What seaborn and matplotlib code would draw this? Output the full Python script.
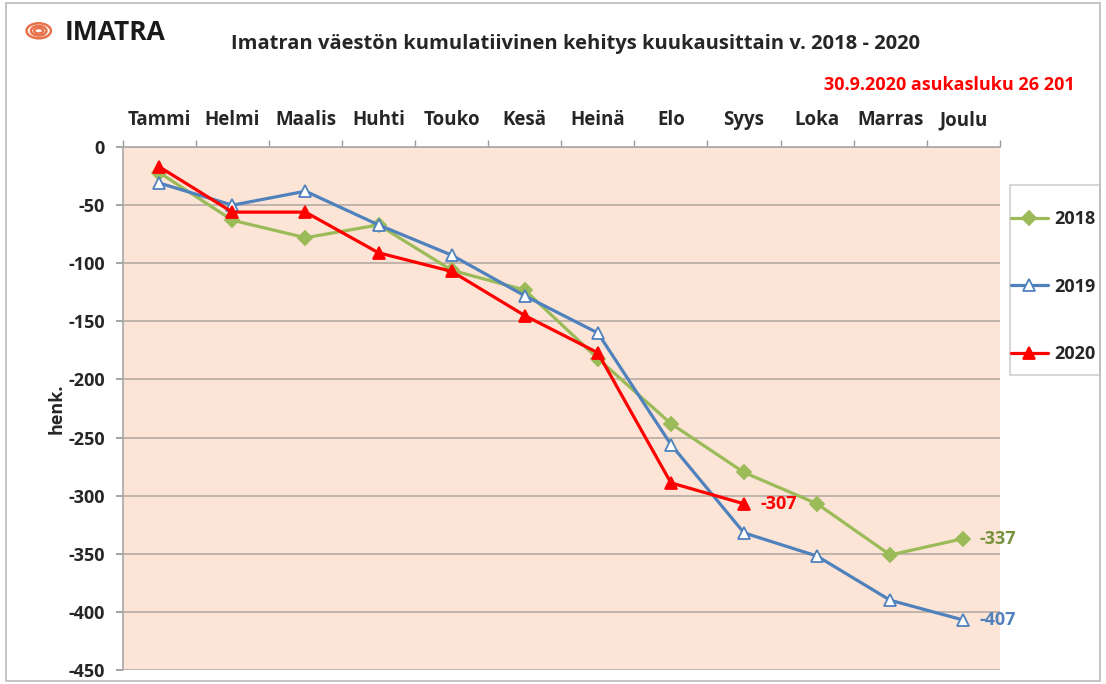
import matplotlib
matplotlib.use("Agg")
import matplotlib.pyplot as plt
import seaborn as sns
import pandas as pd
import numpy as np
from matplotlib.patches import Rectangle, Circle

months = ["Tammi", "Helmi", "Maalis", "Huhti", "Touko", "Kesä", "Heinä",
          "Elo", "Syys", "Loka", "Marras", "Joulu"]
v2018 = [-22, -63, -78, -67, -106, -123, -182, -238, -280, -307, -351, -337]
v2019 = [-31, -50, -38, -67, -93, -128, -160, -256, -332, -352, -390, -407]
v2020 = [-17, -56, -56, -91, -107, -145, -177, -289, -307]
yticks = [0, -50, -100, -150, -200, -250, -300, -350, -400, -450]

sns.set_theme(style="white")
plt.rcParams['font.family'] = ['Open Sans', 'DejaVu Sans']

fig = plt.figure(figsize=(11.06, 6.84), dpi=100)
ax = fig.add_axes([0.111, 0.0205, 0.793, 0.7645])
ax.set_facecolor("#FCE4D6")

rows = []
for name, vals in [("2018", v2018), ("2019", v2019), ("2020", v2020)]:
    for i, v in enumerate(vals):
        rows.append({"x": i, "y": v, "year": name})
df = pd.DataFrame(rows)

styles = {
    "2018": dict(color="#9BBB59", marker="D", mfc="#9BBB59", mec="#9BBB59", ms=7),
    "2019": dict(color="#4F81BD", marker="^", mfc="white", mec="#4F81BD", ms=9),
    "2020": dict(color="#FF0000", marker="^", mfc="#FF0000", mec="#FF0000", ms=9),
}
for yr in ["2018", "2019", "2020"]:
    s = styles[yr]
    sns.lineplot(data=df[df.year == yr], x="x", y="y", ax=ax, color=s["color"],
                 marker=s["marker"], markerfacecolor=s["mfc"], markeredgecolor=s["mec"],
                 markersize=s["ms"], markeredgewidth=1.3, linewidth=2.3, label=yr)

ax.set_xlim(-0.5, 11.5)
ax.set_ylim(-450, 0)
ax.set_yticks(yticks)
ax.set_yticklabels([str(t) for t in yticks], fontsize=13, fontweight="bold")
ax.yaxis.grid(True, color="#B5ABA3", linewidth=1.2)
ax.set_axisbelow(True)
ax.xaxis.tick_top()
ax.set_xticks(range(12))
ax.set_xticklabels(months, fontsize=13.5, fontweight="bold")
ax.tick_params(axis="x", length=0, pad=12)
ax.set_xticks(np.arange(-0.5, 12, 1), minor=True)
ax.tick_params(axis="x", which="minor", length=5, color="#999999", top=True)
ax.tick_params(axis="y", length=5, color="#999999", left=True, pad=8)
ax.set_xlabel("")
ax.set_ylabel("henk.", fontsize=13, fontweight="bold", labelpad=2)
for sp in ["right", "bottom"]:
    ax.spines[sp].set_visible(False)
for sp in ["left", "top"]:
    ax.spines[sp].set_color("#AAAAAA")

ax.annotate("-307", (8, v2020[-1]), xytext=(12, 0), textcoords="offset points",
            color="#FF0000", fontsize=13, fontweight="bold", va="center")
ax.annotate("-337", (11, v2018[-1]), xytext=(12, 0), textcoords="offset points",
            color="#76923C", fontsize=13, fontweight="bold", va="center")
ax.annotate("-407", (11, v2019[-1]), xytext=(12, 0), textcoords="offset points",
            color="#4F81BD", fontsize=13, fontweight="bold", va="center")

# legend box (frame drawn separately, behind the legend)
fig.add_artist(Rectangle((1010 / 1106, 1 - 375 / 684), 90 / 1106, 190 / 684,
                         transform=fig.transFigure, facecolor="white",
                         edgecolor="#D0D0D0", linewidth=1.2, zorder=-1))
leg = ax.legend(loc="upper left", bbox_to_anchor=(1.006, 0.89), frameon=False,
                labelspacing=2.75, handlelength=2.1, handletextpad=0.3,
                borderpad=0.3, borderaxespad=0.0,
                prop={"weight": "bold", "size": 13})

fig.text(0.52, 0.935, "Imatran väestön kumulatiivinen kehitys kuukausittain v. 2018 - 2020",
         ha="center", va="center", fontsize=14.5, fontweight="bold")
fig.text(0.972, 0.875, "30.9.2020 asukasluku 26 201", ha="right", va="center",
         fontsize=13, fontweight="bold", color="#FF0000")
fig.text(0.058, 0.952, "IMATRA", ha="left", va="center", fontsize=19,
         fontweight="bold", color="#1A1A1A")
for r in [0.011, 0.007, 0.004]:
    fig.add_artist(Circle((0.035, 0.955), r, transform=fig.transFigure,
                          fill=False, edgecolor="#E8734A", linewidth=1.8))
fig.add_artist(Rectangle((0.005, 0.005), 0.99, 0.99, transform=fig.transFigure,
                         fill=False, edgecolor="#BBBBBB", linewidth=1.2))

fig.savefig("out.png", dpi=100)
